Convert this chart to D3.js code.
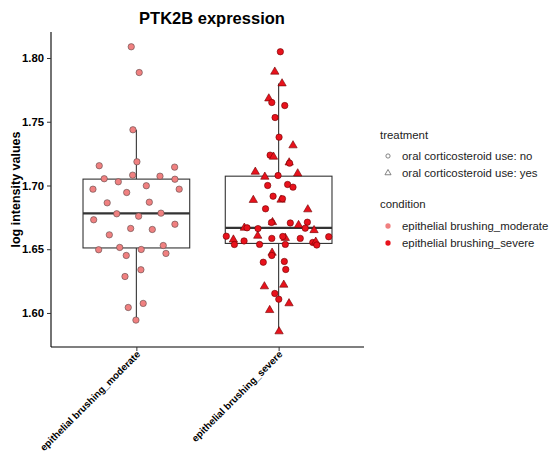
<!DOCTYPE html>
<html>
<head>
<meta charset="utf-8">
<script src="https://cdn.jsdelivr.net/npm/d3@7"></script>
<style>
  html, body { margin: 0; padding: 0; background: #fff; }
  svg { display: block; font-family: "Liberation Sans", Arial, Helvetica, sans-serif; }
</style>
</head>
<body>
<svg id="chart" width="553" height="456"></svg>
<script>
// ---------------- data ----------------
const categories = ["epithelial brushing_moderate", "epithelial brushing_severe"];
const yTicks = [1.60, 1.65, 1.70, 1.75, 1.80];
const treatmentLabels = ["oral corticosteroid use: no", "oral corticosteroid use: yes"];
const conditionLabels = ["epithelial brushing_moderate", "epithelial brushing_severe"];

const moderateValues = [1.8088, 1.7886, 1.7437, 1.7155, 1.7186, 1.7144, 1.7053, 1.7081, 1.7073, 1.7049,
  1.7029, 1.6971, 1.6945, 1.6998, 1.6971, 1.6864, 1.6869, 1.6778, 1.6759, 1.6783,
  1.6731, 1.6696, 1.6663, 1.6655, 1.6613, 1.6496, 1.6514, 1.6498, 1.6529, 1.6451,
  1.6467, 1.6339, 1.6286, 1.6075, 1.6043, 1.5944];
const moderateJitter = [-0.036, 0.020, -0.024, -0.261, 0.004, 0.269, -0.226, -0.026, 0.166, 0.271,
  -0.127, -0.305, -0.068, 0.070, 0.301, -0.205, 0.091, -0.138, 0.016, 0.173,
  -0.300, 0.271, -0.040, 0.112, -0.190, -0.265, -0.117, 0.034, 0.189, -0.071,
  0.208, 0.032, -0.080, 0.048, -0.057, -0.003];
const moderateTreatment = moderateValues.map(() => "no");

const severeValues = [1.8049, 1.7892, 1.7800, 1.7682, 1.7651, 1.7627, 1.7533, 1.7379, 1.7314, 1.7238,
  1.7225, 1.7180, 1.7175, 1.7107, 1.7068, 1.7078, 1.7094, 1.7000, 1.7008, 1.6987,
  1.6886, 1.6916, 1.6888, 1.6896, 1.6817, 1.6812, 1.6712, 1.6710, 1.6706, 1.6689,
  1.6712, 1.6665, 1.6649, 1.6668, 1.6668, 1.6662, 1.6605, 1.6588, 1.6600, 1.6585,
  1.6585, 1.6598, 1.6602, 1.6575, 1.6537, 1.6565, 1.6538, 1.6538, 1.6553, 1.6558,
  1.6533, 1.6472, 1.6451, 1.6398, 1.6404, 1.6341, 1.6208, 1.6221, 1.6153, 1.6108,
  1.6075, 1.6022, 1.5855];
const severeJitter = [0.012, -0.027, 0.024, -0.069, -0.048, 0.043, -0.025, 0.003, 0.101, -0.060,
  -0.036, 0.074, 0.077, -0.164, -0.097, -0.004, 0.134, -0.077, 0.063, 0.101,
  -0.178, -0.039, 0.017, 0.027, -0.092, 0.205, -0.043, -0.050, 0.082, 0.140,
  0.202, 0.187, 0.249, -0.241, -0.222, -0.145, -0.147, 0.047, 0.029, -0.048,
  0.152, 0.352, -0.368, -0.318, -0.311, -0.243, -0.134, 0.047, 0.240, 0.261,
  0.268, -0.046, -0.048, -0.108, 0.040, 0.050, -0.100, 0.036, -0.027, 0.001,
  0.073, -0.063, 0.003];
const severeTreatment = ["no","yes","yes","yes","no","no","no","no","yes","no",
  "yes","yes","no","yes","yes","no","yes","no","no","no",
  "yes","no","yes","no","no","yes","yes","no","no","yes",
  "no","no","yes","yes","no","no","yes","yes","no","no",
  "no","no","no","yes","no","no","no","no","no","yes",
  "no","yes","no","no","no","no","yes","yes","no","no",
  "yes","yes","yes"];

// ---------------- build ----------------
const groups = [
  { cat: categories[0], values: moderateValues, jitter: moderateJitter, treat: moderateTreatment, fill: "#F08080", stroke: "#5a4a4a" },
  { cat: categories[1], values: severeValues, jitter: severeJitter, treat: severeTreatment, fill: "#E8121C", stroke: "#6e0000" }
];

const svg = d3.select("#chart");
svg.append("rect").attr("width", 553).attr("height", 456).attr("fill", "#fff");

const panel = { left: 51, right: 364, top: 32, bottom: 347 };

const x = d3.scaleLinear().domain([0.4, 2.6]).range([panel.left, panel.right]);
const y = d3.scaleLinear().domain([1.5733, 1.8204]).range([panel.bottom, panel.top]);

// boxplots
const boxW = 0.75;
groups.forEach(g => {
  const s = g.values.slice().sort(d3.ascending);
  const q1 = d3.quantile(s, 0.25), med = d3.quantile(s, 0.5), q3 = d3.quantile(s, 0.75);
  const iqr = q3 - q1;
  const lo = d3.min(s.filter(v => v >= q1 - 1.5 * iqr));
  const hi = d3.max(s.filter(v => v <= q3 + 1.5 * iqr));
  const i = categories.indexOf(g.cat) + 1;
  const cx = x(i), x0 = x(i - boxW / 2), x1 = x(i + boxW / 2);
  const bg = svg.append("g").attr("stroke", "#333").attr("fill", "none");
  bg.append("line").attr("x1", cx).attr("x2", cx).attr("y1", y(hi)).attr("y2", y(q3)).attr("stroke-width", 1.1);
  bg.append("line").attr("x1", cx).attr("x2", cx).attr("y1", y(q1)).attr("y2", y(lo)).attr("stroke-width", 1.1);
  bg.append("rect").attr("x", x0).attr("y", y(q3)).attr("width", x1 - x0).attr("height", y(q1) - y(q3))
    .attr("fill", "#fff").attr("stroke-width", 1.1);
  bg.append("line").attr("x1", x0).attr("x2", x1).attr("y1", y(med)).attr("y2", y(med)).attr("stroke-width", 2.2);
});

// points
const circleSym = d3.symbol().type(d3.symbolCircle).size(32);
const triSym = d3.symbol().type(d3.symbolTriangle).size(30);
groups.forEach(g => {
  const i = categories.indexOf(g.cat) + 1;
  g.values.forEach((v, k) => {
    svg.append("path")
      .attr("d", g.treat[k] === "yes" ? triSym() : circleSym())
      .attr("transform", `translate(${x(i + g.jitter[k])},${y(v)})`)
      .attr("fill", g.fill).attr("stroke", g.stroke).attr("stroke-width", 0.6);
  });
});

// axes
const yAxis = d3.axisLeft(y).tickValues(yTicks).tickFormat(d3.format(".2f")).tickSize(4).tickPadding(3);
const yg = svg.append("g").attr("transform", `translate(${panel.left},0)`).call(yAxis);
yg.select(".domain").attr("d", `M0,${panel.top}V${panel.bottom}`).attr("stroke", "#000").attr("stroke-width", 1.1);
yg.selectAll(".tick line").attr("stroke", "#333");
yg.selectAll(".tick text").attr("font-size", 11.3).attr("font-weight", "bold").attr("fill", "#000")
  .attr("font-family", "Liberation Sans, Arial, sans-serif");

const xAxis = d3.axisBottom(x).tickValues([1, 2]).tickFormat(d => categories[d - 1]).tickSize(4).tickPadding(2);
const xg = svg.append("g").attr("transform", `translate(0,${panel.bottom})`).call(xAxis);
xg.select(".domain").attr("d", `M${panel.left},0H${panel.right}`).attr("stroke", "#000").attr("stroke-width", 1.1);
xg.selectAll(".tick line").attr("stroke", "#333");
xg.selectAll(".tick text")
  .attr("font-size", 9.8).attr("font-weight", "bold").attr("fill", "#000")
  .attr("font-family", "Liberation Sans, Arial, sans-serif")
  .attr("text-anchor", "end").attr("dy", null).attr("y", 0)
  .attr("transform", "translate(4,8) rotate(-45)");

// titles
svg.append("text").attr("x", 212).attr("y", 24).attr("text-anchor", "middle")
  .attr("font-size", 16.5).attr("font-weight", "bold").text("PTK2B expression");
svg.append("text").attr("transform", `translate(20,${(panel.top + panel.bottom) / 2}) rotate(-90)`)
  .attr("text-anchor", "middle").attr("font-size", 12.5).attr("font-weight", "bold").text("log intensity values");

// legend
const lg = svg.append("g").attr("font-size", 11.4).attr("fill", "#222");
lg.append("text").attr("x", 380).attr("y", 139).text("treatment");
const legSymC = d3.symbol().type(d3.symbolCircle).size(14);
const legSymT = d3.symbol().type(d3.symbolTriangle).size(16);
treatmentLabels.forEach((t, k) => {
  const yy = 156 + k * 17;
  lg.append("path").attr("d", k === 0 ? legSymC() : legSymT()).attr("transform", `translate(388,${yy})`)
    .attr("fill", "none").attr("stroke", "#666").attr("stroke-width", 0.8);
  lg.append("text").attr("x", 402).attr("y", yy + 4).text(t);
});
lg.append("text").attr("x", 380).attr("y", 208).text("condition");
const legFill = [groups[0].fill, groups[1].fill];
conditionLabels.forEach((t, k) => {
  const yy = 226 + k * 17;
  lg.append("path").attr("d", d3.symbol().type(d3.symbolCircle).size(22)()).attr("transform", `translate(388,${yy})`)
    .attr("fill", legFill[k]).attr("stroke", "none");
  lg.append("text").attr("x", 402).attr("y", yy + 4).text(t);
});
</script>
</body>
</html>
